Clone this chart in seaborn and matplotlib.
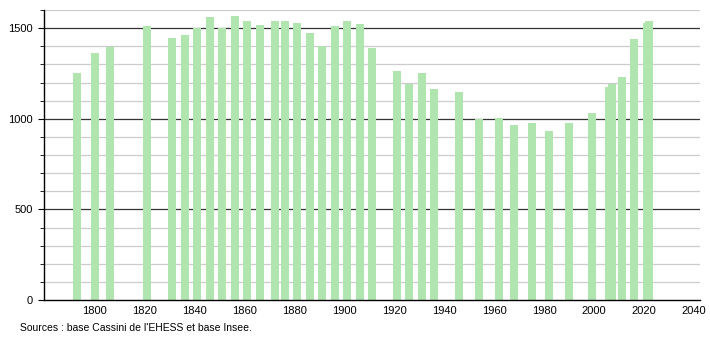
import matplotlib
matplotlib.use("Agg")
import matplotlib.pyplot as plt
import seaborn as sns
import pandas as pd
from matplotlib.ticker import MultipleLocator

years = [1793, 1800, 1806, 1821, 1831, 1836, 1841, 1846, 1851, 1856, 1861, 1866,
         1872, 1876, 1881, 1886, 1891, 1896, 1901, 1906, 1911, 1921, 1926, 1931,
         1936, 1946, 1954, 1962, 1968, 1975, 1982, 1990, 1999, 2006, 2007, 2011,
         2016, 2021, 2022]
population = [1251, 1365, 1396, 1509, 1443, 1461, 1498, 1559, 1498, 1568, 1537, 1516,
              1542, 1537, 1531, 1472, 1404, 1514, 1542, 1522, 1389, 1265, 1190, 1251,
              1162, 1146, 1000, 1002, 968, 974, 935, 974, 1029, 1177, 1190, 1232,
              1439, 1527, 1537]
x_ticks = [1800, 1820, 1840, 1860, 1880, 1900, 1920, 1940, 1960, 1980, 2000, 2020, 2040]
y_ticks = [0, 500, 1000, 1500]
source_text = "Sources : base Cassini de l'EHESS et base Insee."

sns.set_style("white")
plt.rcParams['font.family'] = ['Liberation Sans', 'DejaVu Sans']

df = pd.DataFrame({"year": years, "pop": population})

fig = plt.figure(figsize=(7.1, 3.4), dpi=100)
ax = fig.add_axes([44 / 710, 1 - 300 / 340, (700 - 44) / 710, 290 / 340])

# grid lines
for v in range(100, 1700, 100):
    if v % 500 == 0:
        ax.axhline(v, color="#333333", lw=0.9, zorder=0)
    else:
        ax.axhline(v, color="#cccccc", lw=0.9, zorder=0)

sns.barplot(data=df, x="year", y="pop", native_scale=True, width=3.2,
            color="#b0e5b0", saturation=1, linewidth=0, ax=ax, zorder=2)

ax.set_xlim(1779.6, 2042.4)
ax.set_ylim(0, 1600)
ax.set_xticks(x_ticks)
ax.set_xticklabels([str(t) for t in x_ticks])
ax.set_yticks(y_ticks)
ax.yaxis.set_minor_locator(MultipleLocator(100))
ax.tick_params(axis="y", which="major", length=4, width=0.8, color="black",
               labelsize=8, pad=4, left=True, labelcolor="black")
ax.tick_params(axis="y", which="minor", length=3, width=0.6, color="black", left=True)
ax.tick_params(axis="x", length=0, labelsize=8, pad=4, labelcolor="black")
ax.set_xlabel("")
ax.set_ylabel("")
for s in ["top", "right"]:
    ax.spines[s].set_visible(False)
ax.spines["left"].set_color("black")
ax.spines["bottom"].set_color("black")
ax.spines["left"].set_linewidth(1.0)
ax.spines["bottom"].set_linewidth(1.0)
ax.spines["left"].set_zorder(3)
ax.spines["bottom"].set_zorder(3)

fig.text(20 / 710, 1 - 328 / 340, source_text, fontsize=7.5, ha="left", va="center",
         color="black")

fig.savefig("out.png", dpi=100)
